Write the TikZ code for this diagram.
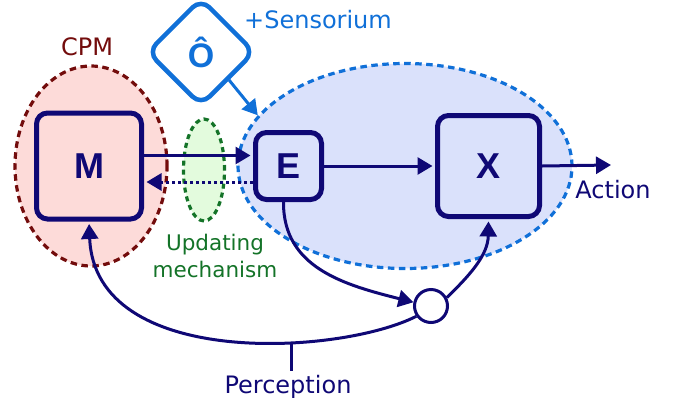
\documentclass[tikz,border=0pt]{standalone}
\usepackage{fontspec}
\setmainfont{DejaVu Sans}
\newfontfamily\letterfont{Liberation Sans}
\usetikzlibrary{shapes.geometric,arrows.meta}

\definecolor{navy}{RGB}{15,8,117}
\definecolor{cpmred}{RGB}{115,12,12}
\definecolor{cpmfill}{RGB}{253,219,217}
\definecolor{sblue}{RGB}{16,112,216}
\definecolor{sfill}{RGB}{218,225,251}
\definecolor{ugreen}{RGB}{20,115,40}
\definecolor{ugfill}{RGB}{227,251,221}

\tikzset{
  txt/.style={font=\fontsize{24}{27}\selectfont, inner sep=0pt},
  blk/.style={draw=navy, line width=5pt, rounded corners=11pt, inner sep=0pt,
    font=\letterfont\fontsize{36}{36}\selectfont\bfseries, text=navy},
  flow/.style={draw=navy, line width=3pt, -{Triangle[length=15pt,width=17pt]}},
  region/.style={ellipse, inner sep=0pt, line width=3.2pt, dash pattern=on 6.5pt off 4.5pt},
}

\begin{document}
\begin{tikzpicture}[x=1pt,y=-1pt]
\useasboundingbox (0,0) rectangle (678,408);

% grouping regions
\node[region, draw=cpmred, fill=cpmfill, minimum width=152pt, minimum height=200pt] (cpm) at (91,166) {};
\node[region, draw=sblue, fill=sfill, minimum width=334pt, minimum height=205pt] (ctrl) at (405,166) {};
\node[region, draw=ugreen, fill=ugfill, minimum width=41pt, minimum height=102pt,
      dash pattern=on 5pt off 4pt] (upd) at (204,170) {};

% blocks
\node[blk, fill=cpmfill, minimum width=105pt, minimum height=106pt] (M) at (89,166) {M};
\node[blk, fill=sfill, minimum width=66pt, minimum height=67pt] (E) at (288.5,166) {E};
\node[blk, fill=sfill, minimum width=102pt, minimum height=101pt] (X) at (488.5,166) {X};
\node[diamond, aspect=1, draw=sblue, line width=4.5pt, fill=white, rounded corners=12pt,
      minimum width=108pt, minimum height=108pt, inner sep=0pt, text=sblue,
      font=\letterfont\fontsize{34}{34}\selectfont\bfseries] (O) at (201,52) {Ô};
\node[circle, draw=navy, line width=3pt, fill=white, minimum size=33pt, inner sep=0pt] (mix) at (431,306) {};

% labels
\node[txt, text=cpmred] (cpmlbl) at (87,47) {CPM};
\node[txt, text=sblue] (senslbl) at (318,20) {+Sensorium};
\node[txt, text=ugreen, align=center, font=\fontsize{21.5}{27}\selectfont] (updlbl) at (215,256) {Updating\\mechanism};
\node[txt, text=navy] (actlbl) at (613,190) {Action};
\node[txt, text=navy] (perclbl) at (288,387) {Perception};

\coordinate (actend) at (611,165);

% connectors
\draw[flow, draw=sblue] (O.south east) -- (ctrl.161);
\draw[flow, shorten >=2.5pt] ([yshift=10.5pt]M.east) -- ([yshift=10.5pt]E.west);
\draw[flow, shorten >=2.5pt, dash pattern=on 3pt off 3pt] ([yshift=-16pt]E.west) -- ([yshift=-16pt]M.east);
\draw[flow, shorten >=2.5pt] (E) -- (X);
\draw[flow] (X.east) -- (actend);
\draw[flow] ([xshift=-5pt]E.south) .. controls (283,268) and (345,285) .. (mix.168);
\draw[flow, shorten >=2.5pt] (mix.28) .. controls (470,275) and (488,255) .. (X.south);
\draw[flow, shorten >=2.5pt] (mix.215) .. controls (340,355) and (95,370) .. (M.south)
  coordinate[pos=0.35] (tick);
\draw[navy, line width=3pt, shorten >=4pt] (tick) -- (tick |- perclbl.north);
\end{tikzpicture}
\end{document}
